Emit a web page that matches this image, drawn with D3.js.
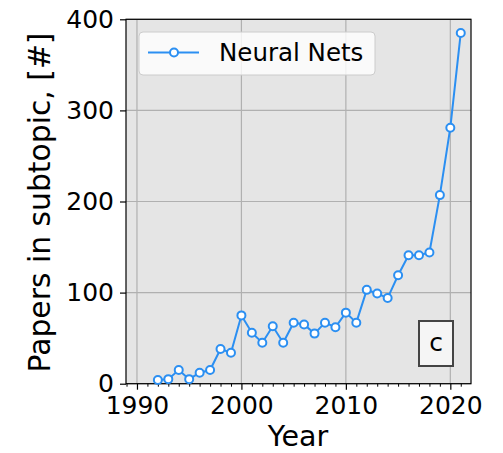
<!DOCTYPE html>
<html><head><meta charset="utf-8">
<script src="https://cdn.jsdelivr.net/npm/d3@7"></script>
<style>
html,body{margin:0;padding:0;background:#fff;}
text{font-family:"DejaVu Sans",sans-serif;}
</style></head>
<body>
<svg id="chart" width="503" height="453"></svg>
<script>
const years = [1992,1993,1994,1995,1996,1997,1998,1999,2000,2001,2002,2003,2004,2005,2006,2007,2008,2009,2010,2011,2012,2013,2014,2015,2016,2017,2018,2019,2020,2021];
const papers = [4,5,15,5,12,15,38,34,75,56,45,63,45,67,65,55,67,62,78,67,103,99,94,119,141,141,144,207,281,385];
const xTicks = [1990,2000,2010,2020];
const yTicks = [0,100,200,300,400];
const seriesName = "Neural Nets";
const panelLabel = "c";

const svg = d3.select("#chart");
const L=126, R=471, T=19.3, B=383.7;
const x = d3.scaleLinear().domain([1988.95, 2021.98]).range([L,R]);
const y = d3.scaleLinear().domain([0,400]).range([B,T]);
const blue = "#2b8ff2";

svg.append("rect").attr("x",L).attr("y",T).attr("width",R-L).attr("height",B-T).attr("fill","#e5e5e5");

// grid
svg.append("g").selectAll("line").data(xTicks).join("line")
  .attr("x1",d=>x(d)).attr("x2",d=>x(d)).attr("y1",T).attr("y2",B)
  .attr("stroke","#b0b0b0").attr("stroke-width",1.2);
svg.append("g").selectAll("line").data(yTicks).join("line")
  .attr("y1",d=>y(d)).attr("y2",d=>y(d)).attr("x1",L).attr("x2",R)
  .attr("stroke","#b0b0b0").attr("stroke-width",1.2);

// axes
const minorYears = d3.range(1989, 2022).filter(v=>!xTicks.includes(v));
const xMinor = d3.axisBottom(x).tickValues(minorYears).tickSize(3).tickFormat("");
svg.append("g").attr("transform",`translate(0,${B})`).call(xMinor)
  .call(g=>g.select(".domain").remove())
  .call(g=>g.selectAll("line").attr("stroke","#000").attr("stroke-width",1));
const xAxis = d3.axisBottom(x).tickValues(xTicks).tickSize(6).tickPadding(7).tickFormat(d3.format("d"));
svg.append("g").attr("transform",`translate(0,${B})`).call(xAxis)
  .call(g=>g.select(".domain").remove())
  .call(g=>g.selectAll("line").attr("stroke","#000").attr("stroke-width",1.2))
  .call(g=>g.selectAll("text").attr("font-size",25).attr("fill","#000").attr("font-family","DejaVu Sans"));
const yAxis = d3.axisLeft(y).tickValues(yTicks).tickSize(6).tickPadding(6);
svg.append("g").attr("transform",`translate(${L},0)`).call(yAxis)
  .call(g=>g.select(".domain").remove())
  .call(g=>g.selectAll("line").attr("stroke","#000").attr("stroke-width",1.2))
  .call(g=>g.selectAll("text").attr("font-size",25).attr("fill","#000").attr("font-family","DejaVu Sans"));

// spines
svg.append("rect").attr("x",L).attr("y",T).attr("width",R-L).attr("height",B-T)
  .attr("fill","none").attr("stroke","#000").attr("stroke-width",1.2);

// line
const pts = years.map((yr,i)=>[yr,papers[i]]);
svg.append("path").datum(pts)
  .attr("d",d3.line().x(d=>x(d[0])).y(d=>y(d[1])))
  .attr("fill","none").attr("stroke",blue).attr("stroke-width",2);
svg.append("g").selectAll("circle").data(pts).join("circle")
  .attr("cx",d=>x(d[0])).attr("cy",d=>y(d[1])).attr("r",4)
  .attr("fill","#fff").attr("stroke",blue).attr("stroke-width",2);

// legend
svg.append("rect").attr("x",139).attr("y",32).attr("width",236).attr("height",43).attr("rx",4)
  .attr("fill","#fff").attr("fill-opacity",0.8).attr("stroke","#cccccc").attr("stroke-width",1);
svg.append("line").attr("x1",148).attr("x2",199).attr("y1",52.5).attr("y2",52.5)
  .attr("stroke",blue).attr("stroke-width",2);
svg.append("circle").attr("cx",174).attr("cy",52.5).attr("r",4)
  .attr("fill","#fff").attr("stroke",blue).attr("stroke-width",2);
svg.append("text").attr("x",219).attr("y",61).attr("font-size",24.5).attr("fill","#000").text(seriesName);

// panel label
svg.append("rect").attr("x",419).attr("y",321).attr("width",34).attr("height",45)
  .attr("fill","#f5f5f5").attr("stroke","#444").attr("stroke-width",2);
svg.append("text").attr("x",436).attr("y",351).attr("text-anchor","middle").attr("font-size",25).attr("fill","#000").text(panelLabel);

// axis titles
svg.append("text").attr("x",298).attr("y",446).attr("text-anchor","middle").attr("font-size",28.5).attr("fill","#000").text("Year");
svg.append("text").attr("transform","translate(49.5,202.5) rotate(-90)").attr("text-anchor","middle")
  .attr("font-size",29.8).attr("fill","#000").text("Papers in subtopic, [#]");
</script>
</body></html>
